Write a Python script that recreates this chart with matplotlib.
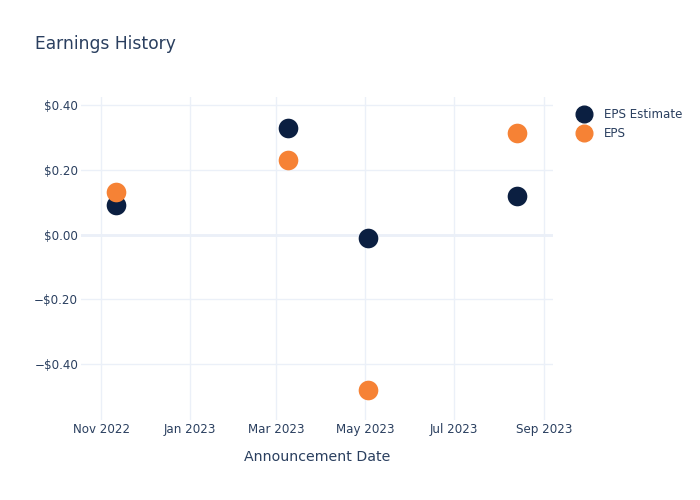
import matplotlib
matplotlib.use("Agg")
import matplotlib.pyplot as plt
from matplotlib.ticker import FuncFormatter
from matplotlib.lines import Line2D
import pandas as pd

dates = ["2022-11-11", "2023-03-09", "2023-05-03", "2023-08-13"]
eps_estimate = [0.09, 0.33, -0.01, 0.12]
eps_actual = [0.13, 0.23, -0.48, 0.315]
x_ticks = ["2022-11-01", "2023-01-01", "2023-03-01", "2023-05-01", "2023-07-01", "2023-09-01"]
y_ticks = [-0.4, -0.2, 0.0, 0.2, 0.4]

navy = "#0b1f41"
orange = "#f68235"
text_c = "#2a3f5f"
grid_c = "#ebf0f8"

plt.rcParams['font.family'] = ['DejaVu Sans']
fig = plt.figure(figsize=(7, 5), dpi=100)
ax = fig.add_axes([81/700, 1-420/500, (553-81)/700, (420-97)/500])

d = pd.to_datetime(dates)
ax.scatter(d, eps_estimate, s=200, color=navy, zorder=3, linewidths=0)
ax.scatter(d, eps_actual, s=200, color=orange, zorder=3, linewidths=0)

ax.set_xlim(pd.Timestamp("2022-10-18"), pd.Timestamp("2023-09-07"))
ax.set_ylim(-0.573, 0.425)

xt = pd.to_datetime(x_ticks)
ax.set_xticks(xt)
ax.set_xticklabels([t.strftime("%b %Y") for t in xt])
ax.set_yticks(y_ticks)
ax.yaxis.set_major_formatter(FuncFormatter(
    lambda v, p: ("\u2212$%.2f" % abs(v)) if v < -1e-9 else "$%.2f" % abs(v)))

for s in ax.spines.values():
    s.set_visible(False)
ax.grid(True, color=grid_c, linewidth=1, zorder=0)
ax.axhline(0, color=grid_c, linewidth=2, zorder=1)
ax.tick_params(axis='both', length=0, labelsize=8.6, colors=text_c)
ax.tick_params(axis='x', pad=2)
ax.tick_params(axis='y', pad=2)

ax.set_xlabel("Announcement Date", fontsize=10.2, color=text_c, labelpad=10.5)
fig.text(35/700, 1-44/500, "Earnings History", fontsize=12.3, color=text_c, va='center', ha='left')

handles = [Line2D([], [], marker='o', linestyle='', color=navy, markersize=12),
           Line2D([], [], marker='o', linestyle='', color=orange, markersize=12)]
fig.legend(handles, ["EPS Estimate", "EPS"], loc='upper left',
           bbox_to_anchor=(572/700, 1-103/500), frameon=False,
           fontsize=8.6, labelcolor=text_c, handletextpad=1.1,
           labelspacing=0.5, handlelength=1.2, borderaxespad=0)

fig.savefig("out.png", dpi=100, facecolor="white")
